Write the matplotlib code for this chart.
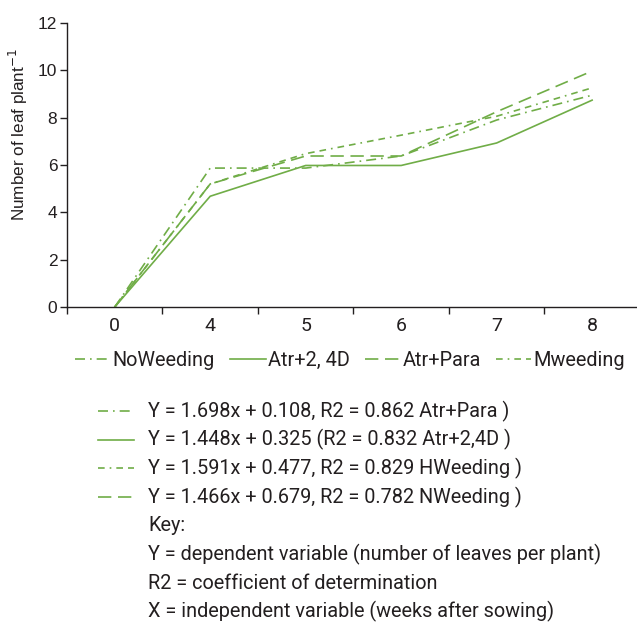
import matplotlib
matplotlib.use('Agg')
import matplotlib.pyplot as plt
from matplotlib.lines import Line2D

GREEN = '#70ad47'
TXT = '#231f20'
FONT = 'Roboto'

weeks = ['0', '4', '5', '6', '7', '8']
no_weeding = [0, 5.87, 5.87, 6.38, 7.90, 8.95]
atr_24d = [0, 4.68, 5.98, 5.98, 6.93, 8.74]
atr_para = [0, 5.20, 6.38, 6.38, 8.25, 9.97]
m_weeding = [0, 5.20, 6.48, 7.26, 8.06, 9.26]

series = [
    ('NoWeeding', no_weeding, (0, (6, 3, 1, 3))),
    ('Atr+2, 4D', atr_24d, '-'),
    ('Atr+Para', atr_para, (0, (8, 4))),
    ('Mweeding', m_weeding, (0, (4, 3, 1, 3, 4, 3))),
]

equations = [
    'Y = 1.698x + 0.108, R2 = 0.862 Atr+Para )',
    'Y = 1.448x + 0.325 (R2 = 0.832 Atr+2,4D )',
    'Y = 1.591x + 0.477, R2 = 0.829 HWeeding )',
    'Y = 1.466x + 0.679, R2 = 0.782 NWeeding )',
]
eq_styles = [(0, (6, 3, 1, 3)), '-', (0, (4, 3, 1, 3, 4, 3)), (0, (8, 4))]
key_lines = [
    'Key:',
    'Y = dependent variable (number of leaves per plant)',
    'R2 = coefficient of determination',
    'X = independent variable (weeks after sowing)',
]

W, H = 637, 625
fig = plt.figure(figsize=(W / 100, H / 100), dpi=100)
ax = fig.add_axes([67 / W, 1 - 307 / H, (W - 67) / W, (307 - 23) / H])

x = list(range(len(weeks)))
for name, vals, ls in series:
    ax.plot(x, vals, color=GREEN, lw=1.2, linestyle=ls, label=name)

ax.set_xlim(-0.5, 5.47)
ax.set_ylim(0, 12)
ax.set_yticks(range(0, 13, 2))
ax.set_xticks(x)
ax.set_xticklabels(weeks, fontsize=14, color=TXT, family=FONT)
ax.set_xticks([i + 0.5 for i in range(-1, 5)], minor=True)
ax.tick_params(axis='x', which='major', length=0, pad=7)
ax.tick_params(axis='x', which='minor', length=5, direction='out', width=1, color=TXT)
ax.tick_params(axis='y', length=5, direction='out', width=1, color=TXT,
               labelsize=12.5, labelcolor=TXT, pad=2)
for lab in ax.get_yticklabels():
    lab.set_family('Liberation Sans')
for s in ['top', 'right']:
    ax.spines[s].set_visible(False)
for s in ['left', 'bottom']:
    ax.spines[s].set_color(TXT)
    ax.spines[s].set_linewidth(1)
ax.set_ylabel('Number of leaf plant$^{-1}$', fontsize=12.3, family='Liberation Sans',
              color=TXT)
ax.yaxis.set_label_coords(-0.065, (307 - 135) / 284)

fig.legend(loc='center', bbox_to_anchor=(350 / W, 1 - 360 / H), ncol=4, frameon=False,
           prop={'family': FONT, 'size': 14.3}, handlelength=1.8, handletextpad=0.1,
           columnspacing=0.75, labelcolor=TXT)

# regression equations with line samples
y0 = 411
step = 28.7
for i, (eq, ls) in enumerate(zip(equations, eq_styles)):
    yy = 1 - (y0 + i * step) / H
    fig.add_artist(Line2D([98 / W, 134 / W], [yy, yy], color=GREEN, lw=1.2,
                          linestyle=ls, transform=fig.transFigure))
    fig.text(148 / W, yy, eq, fontsize=14.3, family=FONT, color=TXT, va='center')
for j, t in enumerate(key_lines):
    yy = 1 - (y0 + (len(equations) + j) * step) / H
    fig.text(148 / W, yy, t, fontsize=14.3, family=FONT, color=TXT, va='center')

fig.savefig('out.png', dpi=100, facecolor='white')
